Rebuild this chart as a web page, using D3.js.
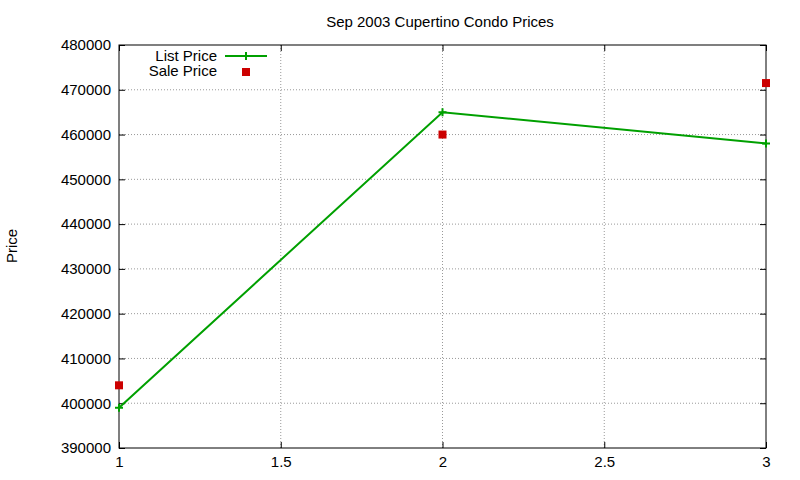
<!DOCTYPE html>
<html><head><meta charset="utf-8">
<script src="https://cdn.jsdelivr.net/npm/d3@7"></script>
<style>body{margin:0;background:#fff}text{font-family:"Liberation Sans",Arial,sans-serif}</style>
</head><body><svg id="c" width="800" height="480"></svg>
<script>
const xs = [1, 2, 3];
const listPrice = [399000, 465000, 458000];
const salePrice = [404000, 460000, 471500];
const xTicks = [1, 1.5, 2, 2.5, 3];
const yTicks = [390000,400000,410000,420000,430000,440000,450000,460000,470000,480000];

const svg = d3.select("#c");
const L=119,R=766,T=45,B=448;
const x = d3.scaleLinear().domain([1,3]).range([L,R]);
const y = d3.scaleLinear().domain([390000,480000]).range([B,T]);

const g = svg.append("g");
g.selectAll(".gx").data(xTicks.slice(1,-1)).join("line")
 .attr("x1",d=>x(d)).attr("x2",d=>x(d)).attr("y1",T).attr("y2",B)
 .attr("stroke","#999").attr("stroke-dasharray","1,2");
g.selectAll(".gy").data(yTicks.slice(1,-1)).join("line")
 .attr("x1",L).attr("x2",R).attr("y1",d=>y(d)).attr("y2",d=>y(d))
 .attr("stroke","#999").attr("stroke-dasharray","1,2");

const ax = svg.append("g").attr("transform",`translate(0,${B})`)
 .call(d3.axisBottom(x).tickValues(xTicks).tickSize(-6).tickPadding(8).tickFormat(d3.format("")));
const axT = svg.append("g").attr("transform",`translate(0,${T})`)
 .call(d3.axisTop(x).tickValues(xTicks).tickSize(-6).tickFormat(""));
const ay = svg.append("g").attr("transform",`translate(${L},0)`)
 .call(d3.axisLeft(y).tickValues(yTicks).tickSize(-6).tickPadding(8).tickFormat(d3.format("d")));
const ayR = svg.append("g").attr("transform",`translate(${R},0)`)
 .call(d3.axisRight(y).tickValues(yTicks).tickSize(-6).tickFormat(""));
[ax,axT,ay,ayR].forEach(a=>{a.select(".domain").remove();a.selectAll("line").attr("stroke","#000");
 a.selectAll("text").attr("font-size",15).attr("fill","#000").style("font-family","Liberation Sans, Arial");});
svg.append("rect").attr("x",L).attr("y",T).attr("width",R-L).attr("height",B-T)
 .attr("fill","none").attr("stroke","#000");

svg.append("text").attr("x",440).attr("y",27).attr("text-anchor","middle").attr("font-size",15).text("Sep 2003 Cupertino Condo Prices");
svg.append("text").attr("transform","translate(17,246) rotate(-90)").attr("text-anchor","middle").attr("font-size",15).text("Price");

const green="#00a000", red="#cc0000";
const line=d3.line().x((d,i)=>x(xs[i])).y(d=>y(d));
svg.append("path").datum(listPrice).attr("d",line).attr("fill","none").attr("stroke",green).attr("stroke-width",2);
const plus=(sel,cx,cy)=>sel.append("path").attr("d",`M${cx-4},${cy}H${cx+4}M${cx},${cy-4}V${cy+4}`).attr("stroke",green).attr("stroke-width",2);
listPrice.forEach((v,i)=>plus(svg,x(xs[i]),y(v)));
svg.selectAll(".sp").data(salePrice).join("rect").attr("x",(d,i)=>x(xs[i])-4).attr("y",d=>y(d)-4)
 .attr("width",8).attr("height",8).attr("fill",red);

svg.append("text").attr("x",217).attr("y",61).attr("text-anchor","end").attr("font-size",15).text("List Price");
svg.append("line").attr("x1",225).attr("x2",267).attr("y1",56).attr("y2",56).attr("stroke",green).attr("stroke-width",2);
plus(svg,246,56);
svg.append("text").attr("x",217).attr("y",76).attr("text-anchor","end").attr("font-size",15).text("Sale Price");
svg.append("rect").attr("x",242).attr("y",68).attr("width",8).attr("height",8).attr("fill",red);
</script></body></html>
